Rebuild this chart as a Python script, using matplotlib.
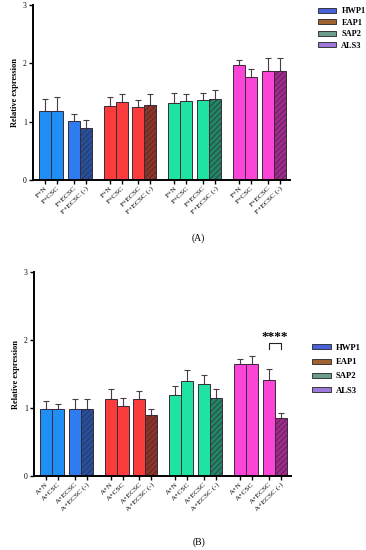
import numpy as np
import matplotlib
matplotlib.use('Agg')
from matplotlib import pyplot as plt
from matplotlib.patches import Patch

genes = ['HWP1', 'EAP1', 'SAP2', 'ALS3']
labels_a = ['F+N', 'F+CSC', 'F+ECSC', 'F+ECSC (-)']
labels_b = ['A+N', 'A+CSC', 'A+ECSC', 'A+ECSC (-)']

# rows: genes, cols: conditions
mean_a = [[1.19, 1.19, 1.02, 0.90],
          [1.27, 1.34, 1.25, 1.29],
          [1.32, 1.36, 1.37, 1.39],
          [1.97, 1.77, 1.87, 1.87]]
err_a = [[0.20, 0.24, 0.12, 0.13],
         [0.15, 0.14, 0.12, 0.19],
         [0.18, 0.11, 0.12, 0.15],
         [0.08, 0.14, 0.23, 0.22]]

mean_b = [[0.98, 0.98, 0.98, 0.99],
          [1.13, 1.03, 1.13, 0.90],
          [1.19, 1.39, 1.35, 1.14],
          [1.64, 1.64, 1.41, 0.85]]
err_b = [[0.12, 0.08, 0.15, 0.14],
         [0.15, 0.12, 0.12, 0.09],
         [0.13, 0.17, 0.14, 0.14],
         [0.08, 0.12, 0.17, 0.07]]

bar_colors = [['#1f8ef5', '#1f8ef5', '#2e7cf0', '#24519f'],
              ['#fb3c3c', '#fb3c3c', '#fb3c3c', '#8e3424'],
              ['#1fe3a2', '#1fe3a2', '#1fe3a2', '#1f8766'],
              ['#fb45d6', '#fb45d6', '#fb45d6', '#a2298c']]
legend_colors = ['#4a62d8', '#a0622e', '#6e9c8a', '#9c78d8']

plt.rcParams['font.family'] = ['Liberation Serif', 'DejaVu Serif']
plt.rcParams['hatch.linewidth'] = 0.5

offsets = np.array([0.0, 1.0, 2.4, 3.4])
group_step = 5.4


def draw_panel(ax, means, errs, labels):
    ticks, ticklabels = [], []
    for g in range(len(genes)):
        xs = g * group_step + offsets + 0.5
        for i, x in enumerate(xs):
            hatch = '//////' if i == 3 else None
            ax.bar(x, means[g][i], width=1.0, color=bar_colors[g][i],
                   edgecolor='#3a2a3a', linewidth=0.7, hatch=hatch, zorder=2)
            ax.errorbar(x, means[g][i], yerr=[[0], [errs[g][i]]], fmt='none',
                        ecolor='#4a3a4a', elinewidth=0.8, capsize=2.2,
                        capthick=0.8, zorder=1)
        ticks.extend(xs)
        ticklabels.extend(labels)
    ax.set_xticks(ticks)
    ax.set_xticklabels(ticklabels, rotation=45, ha='right',
                       rotation_mode='anchor', fontsize=5.4)
    ax.set_xlim(-0.5, 3 * group_step + 4.4 + 0.35)
    ax.set_ylim(0, 3)
    ax.set_yticks([0, 1, 2, 3])
    ax.tick_params(axis='y', labelsize=5.5, length=3, width=1, pad=1.5)
    ax.tick_params(axis='x', length=3, width=1, pad=1)
    for s in ['top', 'right']:
        ax.spines[s].set_visible(False)
    for s in ['left', 'bottom']:
        ax.spines[s].set_linewidth(1.4)
    ax.set_ylabel('Relative expression', fontsize=6, fontweight='bold',
                  labelpad=3)
    handles = [Patch(facecolor=c, edgecolor='#222222', linewidth=0.6)
               for c in legend_colors]
    return handles


fig = plt.figure(figsize=(3.66, 5.5), dpi=100)
ax_a = fig.add_axes([33 / 366, 1 - 180 / 550, 257 / 366, 175 / 550])
ax_b = fig.add_axes([34 / 366, 1 - 476 / 550, 257 / 366, 204 / 550])

h = draw_panel(ax_a, mean_a, err_a, labels_a)
ax_a.legend(h, genes, loc='upper left', bbox_to_anchor=(1.08, 1.03),
            frameon=False, handlelength=2.2, handleheight=0.5,
            handletextpad=0.6, labelspacing=0.42,
            prop={'weight': 'bold', 'size': 6})

h = draw_panel(ax_b, mean_b, err_b, labels_b)
ax_b.legend(h, genes, loc='upper left', bbox_to_anchor=(1.05, 0.685),
            frameon=False, handlelength=2.2, handleheight=0.5,
            handletextpad=0.6, labelspacing=0.72,
            prop={'weight': 'bold', 'size': 6.2})

# significance bracket between last two ALS3 bars
x3 = 3 * group_step + offsets[2] + 0.5
x4 = 3 * group_step + offsets[3] + 0.5
ax_b.plot([x3, x3, x4, x4], [1.87, 1.96, 1.96, 1.87], color='#222222',
          linewidth=0.8)
ax_b.text((x3 + x4) / 2, 2.0, '****', ha='center', va='baseline',
          fontsize=9.5, fontweight='bold')

fig.text(198 / 366, 1 - 238 / 550, '(A)', ha='center', va='center', fontsize=7)
fig.text(199 / 366, 1 - 542 / 550, '(B)', ha='center', va='center', fontsize=7)

fig.savefig('out.png', dpi=100)
